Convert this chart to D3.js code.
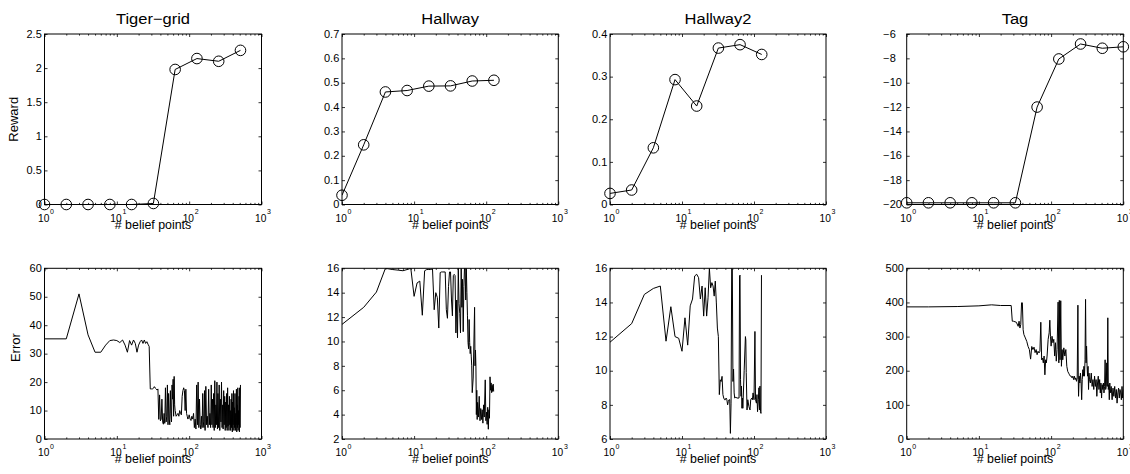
<!DOCTYPE html>
<html>
<head>
<meta charset="utf-8">
<script src="https://cdn.jsdelivr.net/npm/d3@7"></script>
<style>
  body { margin: 0; background: #fff; }
  text { font-family: "Liberation Sans", Arial, Helvetica, sans-serif; fill: #000; font-weight: 400; }
</style>
</head>
<body>
<svg id="fig" width="1130" height="474"></svg>
<script>
// ---- data ----
const beliefPts    = [1, 2, 4, 8, 16, 32, 64, 128, 256, 512];
const beliefPtsHw  = [1, 2, 4, 8, 16, 32, 64, 128];
const beliefPtsTag = [1, 2, 4, 8, 16, 32, 64, 128, 256, 512, 1000];

const rewardTiger    = [0, 0, 0, 0, 0, 0.015, 1.98, 2.14, 2.10, 2.26];
const rewardHallway  = [0.038, 0.245, 0.462, 0.468, 0.486, 0.487, 0.507, 0.51];
const rewardHallway2 = [0.026, 0.034, 0.133, 0.293, 0.231, 0.367, 0.375, 0.352];
const rewardTag      = [-19.86, -19.86, -19.86, -19.86, -19.86, -19.86, -12.0, -8.05, -6.82, -7.17, -7.05];

// [# belief points, error]
const errorTiger = [[1,35.2],[2,35.2],[3,51],[4,36.6],[5,30.5],[6,30.5],[7,33],[8,34.6],[9,34.8],[10,34.6],[11,33.9],[12,34.8],
  [13,33],[14,30.5],[15,34.6],[16,33],[17,34.8],[18,33.6],[19,30.5],[20,33],[21,34.2],[22,34.8],[23,33.6],[24,34.8],[25,33.6],
  [26,34.2],[27,33.3],[28,32.5],[29,17.6],[30,17.6],[31,17.6],[32,17.8],[33,18.4],[34,17.9],[35,17.6],[36,17.2],[37,17.6],
  [38,6.9],[39,15.5],[40,6.4],[41,7],[42,14],[43,6],[44,5.2],[45,9],[46,5.5],[47,18],[48,6],[49,8],[50,19],[51,5],[52,16],
  [53,7],[54,5],[55,17],[56,9],[57,6],[58,19],[59,14],[60,21],[61,8],[62,22],[63,12],[64,10],[66,8],[68,8.5],[70,9],[72,8],
  [74,10],[76,9],[78,8.5],[80,15],[82,17],[84,18],[86,17],[88,10],[90,17.5],[92,9],[94,8],[96,7],[98,7.5],[100,8.5],[103,7],
  [106,6.5],[109,8],[112,7],[115,9],[118,4],[121,7],[124,3.5],[127,19],[130,5],[133,20],[136,4],[139,14],[142,5],[145,3.5],
  [148,8],[151,4],[154,16],[157,6],[160,4],[163,17],[166,3],[170,18.5],[174,5],[178,8],[182,4],[186,17.5],[190,5],[194,9],
  [198,4],[202,19],[206,5],[210,14],[214,4],[218,16],[222,3],[226,20.5],[230,4],[234,12],[238,5],[242,20],[246,3.5],[250,16],
  [255,4],[260,19],[265,3],[270,14],[275,6],[280,20],[285,4],[290,12],[295,3.5],[300,17],[305,5],[310,15],[315,3],[320,13],
  [325,4],[330,16],[335,3],[340,18],[345,4.5],[350,12],[355,3],[360,15],[365,5],[370,10],[375,3],[380,14],[385,4],[390,16],
  [395,2.5],[400,13],[405,5],[410,17],[415,3],[420,11],[425,4],[430,16],[435,3],[440,9],[445,5],[450,17.5],[455,2.5],[460,12],
  [465,4],[470,18],[475,3],[480,10],[485,5],[490,15],[495,2.5],[500,18],[505,4],[512,19]];

const errorHallway = [[1,11.4],[2,12.8],[3,14.05],[4,16],[5,15.9],[6,15.85],[7,15.8],[8,15.9],[9,16],[10,13.7],[11,14.8],
  [12,14.95],[13,12.15],[14,15.8],[15,15.9],[16,15.9],[17,15.9],[18,15.95],[19,12.6],[20,14],[21,13.6],[22,11.1],[23,15.65],
  [24,15.7],[25,15.7],[26,15.7],[27,15.7],[28,12.6],[29,11.9],[30,14.5],[31,15.7],[32,15.7],[33,13.4],[34,12.1],[35,15.4],
  [36,15.5],[37,15.4],[38,10.7],[39,13.4],[40,10.3],[41,16],[42,13.1],[43,12.3],[44,10.7],[45,16],[46,12.8],[47,15.1],
  [48,10.8],[49,14.5],[50,16],[51,16],[52,13.4],[53,16],[54,14],[55,12.1],[56,9.9],[57,9.4],[58,11.8],[59,9.9],[60,9],
  [61,9.6],[62,8.8],[63,8],[64,5.8],[66,7],[69,12.8],[70,8],[71,9.3],[72,8],[73,4],[74,6],[75,3.6],[76,5],[77,4.2],[78,3.8],
  [80,5.5],[82,3.5],[84,4.5],[86,3.6],[88,4.4],[90,3.3],[92,4.8],[94,3.8],[97,6.85],[99,3.5],[101,4.2],[103,3.2],[105,4.6],
  [107,2.8],[109,4.4],[111,3.7],[113,7.1],[115,6],[117,6.6],[119,5.8],[121,6.4],[123,5.9],[125,6.5],[127,5.9]];

const errorHallway2 = [[1,11.67],[2,12.76],[3,14.47],[4,14.82],[5,14.96],[6,11.73],[7,13.75],[8,12.0],[9,11.9],[10,11.14],
  [11,13.1],[12,11.5],[13,13.8],[14,14.2],[15,15.55],[16,15.65],[17,15.45],[18,14.2],[19,14.96],[20,13.2],[21,14.86],
  [22,13.2],[23,14.27],[24,16],[25,14.86],[26,15.16],[27,14.96],[28,14.37],[29,15.25],[30,13.97],[31,12.5],[32,12.0],
  [33,8.6],[34,9.47],[35,9.37],[36,9.67],[37,8.6],[38,8.4],[39,8.3],[40,8.3],[41,8.4],[42,8.3],[43,8.0],[44,8.2],[45,8.3],
  [46,8.3],[47,6.33],[48,8.1],[49,16],[50,15.95],[51,9.37],[52,10.1],[53,8.7],[54,8.4],[56,8.45],[58,8.4],[60,8.4],[62,8.4],
  [63,15.55],[64,15.6],[65,9.47],[66,8.5],[67,9.1],[68,7.8],[69,8.4],[70,7.8],[73,10],[76,12.0],[77,11.8],[78,9.9],[80,7.7],
  [82,8.3],[85,7.9],[88,7.7],[90,8.3],[93,8.4],[95,8.3],[97,8.7],[100,8.3],[103,12.3],[105,8.3],[108,8.1],[110,8.6],
  [112,7.6],[115,8.3],[117,9.0],[119,7.7],[121,9.1],[123,7.6],[125,7.5],[127,15.6]];

const errorTag = [[1,387],[2,387],[5,388],[10,390],[15,393],[20,391],[28,391],[29,345],[30,345],[33,342],[35,330],[36,345],
  [37,325],[38,335],[39,399],[40,399],[41,320],[42,306],[44,296],[46,286],[48,271],[50,262],[52,234],[54,271],[56,262],
  [58,269],[60,253],[62,262],[64,247],[66,257],[68,252],[70,257],[72,342],[74,232],[76,237],[78,223],[80,243],[82,188],
  [84,232],[86,223],[88,243],[91,292],[94,311],[96,348],[98,301],[100,272],[103,301],[106,282],[109,292],[112,243],[115,282],
  [118,228],[121,262],[125,401],[128,223],[130,406],[133,232],[136,405],[139,213],[142,262],[145,232],[150,267],[155,243],
  [160,262],[165,213],[170,198],[175,193],[180,188],[185,184],[190,184],[195,179],[200,184],[205,174],[210,184],[215,174],
  [220,179],[225,169],[230,179],[235,392],[238,174],[240,125],[245,184],[250,164],[255,193],[260,169],[265,115],[270,174],
  [275,203],[280,184],[285,213],[290,184],[295,232],[300,409],[305,223],[310,272],[315,213],[320,184],[325,213],[330,145],
  [335,193],[340,174],[350,164],[360,193],[370,154],[380,174],[390,145],[400,184],[410,154],[420,174],[430,125],[440,164],
  [450,184],[460,145],[470,174],[480,135],[490,164],[500,120],[510,159],[520,145],[530,164],[540,135],[550,154],[560,232],
  [570,145],[580,154],[590,223],[600,154],[610,355],[620,145],[630,159],[640,115],[650,164],[660,135],[680,154],[700,115],
  [720,149],[740,125],[760,154],[780,120],[800,145],[820,105],[840,135],[860,149],[880,120],[900,145],[920,135],[940,115],
  [960,154],[980,120],[1000,145]];

const titles = ["Tiger\u2212grid", "Hallway", "Hallway2", "Tag"];
const xDecades = [1, 10, 100, 1000];

const rewardTicks = [
  [0, 0.5, 1, 1.5, 2, 2.5],
  [0, 0.1, 0.2, 0.3, 0.4, 0.5, 0.6, 0.7],
  [0, 0.1, 0.2, 0.3, 0.4],
  [-20, -18, -16, -14, -12, -10, -8, -6]
];
const errorTicks = [
  [0, 10, 20, 30, 40, 50, 60],
  [2, 4, 6, 8, 10, 12, 14, 16],
  [6, 8, 10, 12, 14, 16],
  [0, 100, 200, 300, 400, 500]
];

// ---- layout ----
const colL = [44.5, 342, 610, 906.7],
      colR = [261.5, 558.3, 826, 1123.3],
      rowT = [34, 268.3],
      rowB = [204.5, 439];

const svg = d3.select("#fig");

const panels = [
  {col:0, row:0, title:titles[0], ylabel:"Reward", ticks:rewardTicks[0], data:d3.zip(beliefPts, rewardTiger), marks:true},
  {col:1, row:0, title:titles[1], ticks:rewardTicks[1], data:d3.zip(beliefPtsHw, rewardHallway), marks:true},
  {col:2, row:0, title:titles[2], ticks:rewardTicks[2], data:d3.zip(beliefPtsHw, rewardHallway2), marks:true},
  {col:3, row:0, title:titles[3], ticks:rewardTicks[3], data:d3.zip(beliefPtsTag, rewardTag), marks:true, leftLabels:true},
  {col:0, row:1, ylabel:"Error", ticks:errorTicks[0], data:errorTiger},
  {col:1, row:1, ticks:errorTicks[1], data:errorHallway},
  {col:2, row:1, ticks:errorTicks[2], data:errorHallway2},
  {col:3, row:1, ticks:errorTicks[3], data:errorTag}
];

// minor ticks of the log axis
const minor = [];
[1, 10, 100].forEach(d => { for (let k = 2; k <= 9; k++) minor.push(d * k); });

panels.forEach((p, i) => {
  const L = colL[p.col], R = colR[p.col], T = rowT[p.row], B = rowB[p.row];
  const x = d3.scaleLog().domain([1, 1000]).range([L, R]);
  const y = d3.scaleLinear().domain(d3.extent(p.ticks)).range([B, T]);
  const g = svg.append("g");

  // clip for the lines
  svg.append("clipPath").attr("id", "clip" + i)
    .append("rect").attr("x", L).attr("y", T).attr("width", R - L).attr("height", B - T);

  const line = d3.line().x(d => x(d[0])).y(d => y(d[1]));
  g.append("path")
    .datum(p.data)
    .attr("clip-path", `url(#clip${i})`)
    .attr("d", line)
    .attr("fill", "none")
    .attr("stroke", "#000")
    .attr("stroke-width", 1)
    .attr("stroke-linejoin", "round");

  if (p.marks) {
    g.selectAll("circle").data(p.data).join("circle")
      .attr("cx", d => x(d[0]))
      .attr("cy", d => y(d[1]))
      .attr("r", 5.3)
      .attr("fill", "none")
      .attr("stroke", "#000")
      .attr("stroke-width", 1);
  }

  // box
  g.append("rect")
    .attr("x", L).attr("y", T).attr("width", R - L).attr("height", B - T)
    .attr("fill", "none").attr("stroke", "#000").attr("stroke-width", 1);

  // inward ticks on all four sides
  const tickAxes = [
    [d3.axisBottom(x).tickValues(xDecades).tickSize(-3), `translate(0,${B})`],
    [d3.axisTop(x).tickValues(xDecades).tickSize(-3), `translate(0,${T})`],
    [d3.axisBottom(x).tickValues(minor).tickSize(-1.6), `translate(0,${B})`],
    [d3.axisTop(x).tickValues(minor).tickSize(-1.6), `translate(0,${T})`],
    [d3.axisRight(y).tickValues(p.ticks).tickSize(-3), `translate(${R},0)`]
  ];
  tickAxes.forEach(([ax, tr]) => {
    const a = g.append("g").attr("transform", tr).call(ax.tickFormat(""));
    a.select(".domain").remove();
    a.selectAll("line").attr("stroke-width", 0.8);
  });

  // left axis with labels
  const yl = g.append("g").attr("transform", `translate(${L},0)`)
    .call(d3.axisLeft(y).tickValues(p.ticks).tickSize(-3).tickPadding(2.5)
      .tickFormat(v => String(v).replace("-", "\u2212")));
  yl.select(".domain").remove();
  yl.selectAll("line").attr("stroke-width", 0.8);
  yl.selectAll("text")
    .attr("font-size", 10)
    .attr("transform", "scale(1.1,1)");
  if (p.leftLabels) yl.selectAll("text").attr("text-anchor", "start").attr("x", -23.4 / 1.1);

  // x tick labels 10^k
  xDecades.forEach((v, k) => {
    const tx = x(v);
    g.append("text").attr("x", tx - 0.8).attr("y", B + 17.3)
      .attr("text-anchor", "middle").attr("font-size", 10.2).text("10");
    g.append("text").attr("x", tx + 5.6).attr("y", B + 9.8)
      .attr("font-size", 7).text(k);
  });

  // x label
  g.append("text")
    .attr("x", (L + R) / 2).attr("y", B + 24)
    .attr("text-anchor", "middle").attr("font-size", 12.4)
    .text("# belief points");

  if (p.title) {
    g.append("text")
      .attr("transform", `translate(${(L + R) / 2},${T - 10}) scale(1.1,1)`)
      .attr("text-anchor", "middle").attr("font-size", 15)
      .text(p.title);
  }

  if (p.ylabel) {
    const lx = p.row === 0 ? 18.3 : 20.3;
    const ly = p.row === 0 ? (T + B) / 2 : (T + B) / 2 - 6;
    g.append("text")
      .attr("transform", `translate(${lx},${ly}) rotate(-90)`)
      .attr("text-anchor", "middle").attr("font-size", 13)
      .text(p.ylabel);
  }
});
</script>
</body>
</html>
